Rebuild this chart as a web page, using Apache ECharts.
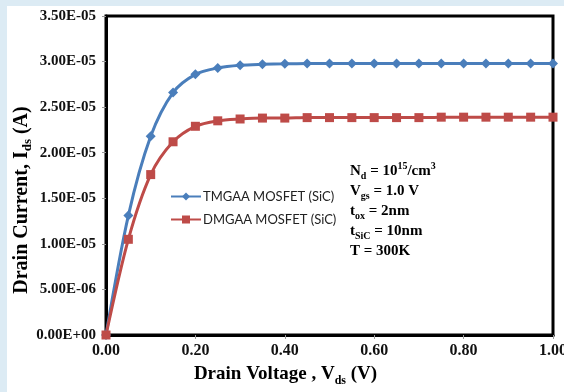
<!DOCTYPE html>
<html>
<head>
<meta charset="utf-8">
<script src="https://cdn.jsdelivr.net/npm/echarts@6/dist/echarts.min.js"></script>
<style>
  html, body { margin: 0; padding: 0; background: #dcebf4; overflow: hidden; }
  #chart { position: absolute; left: 7px; top: 6px; width: 557px; height: 386px; background: #ffffff; }
</style>
</head>
<body>
<div id="chart"></div>
<script>
// Drain voltage sweep (V)
const vds = [0, 0.05, 0.10, 0.15, 0.20, 0.25, 0.30, 0.35, 0.40, 0.45, 0.50,
             0.55, 0.60, 0.65, 0.70, 0.75, 0.80, 0.85, 0.90, 0.95, 1.00];
// Drain current (A)
const tmgaa = [0, 1.31e-5, 2.18e-5, 2.66e-5, 2.86e-5, 2.93e-5, 2.96e-5, 2.97e-5, 2.975e-5, 2.98e-5, 2.98e-5,
               2.98e-5, 2.98e-5, 2.98e-5, 2.98e-5, 2.98e-5, 2.98e-5, 2.98e-5, 2.98e-5, 2.98e-5, 2.98e-5];
const dmgaa = [0, 1.05e-5, 1.76e-5, 2.12e-5, 2.29e-5, 2.35e-5, 2.37e-5, 2.38e-5, 2.38e-5, 2.385e-5, 2.385e-5,
               2.385e-5, 2.385e-5, 2.385e-5, 2.385e-5, 2.39e-5, 2.39e-5, 2.39e-5, 2.39e-5, 2.39e-5, 2.39e-5];
const seriesNames = ['TMGAA MOSFET (SiC)', 'DMGAA MOSFET (SiC)'];

function sci(v) {
  if (v === 0) return '0.00E+00';
  let e = Math.floor(Math.log10(Math.abs(v)) + 1e-9);
  let m = v / Math.pow(10, e);
  if (Math.abs(m) >= 9.995) { m /= 10; e += 1; }
  const es = (e < 0 ? '-' : '+') + String(Math.abs(e)).padStart(2, '0');
  return m.toFixed(2) + 'E' + es;
}

const serif = 'Liberation Serif';
const chart = echarts.init(document.getElementById('chart'), null, { renderer: 'canvas' });

const paramRich = {
  m: { fontFamily: serif, fontWeight: 'bold', fontSize: 15, color: '#111', verticalAlign: 'middle', lineHeight: 20 },
  sb: { fontFamily: serif, fontWeight: 'bold', fontSize: 10, color: '#111', verticalAlign: 'bottom', lineHeight: 11 },
  sp: { fontFamily: serif, fontWeight: 'bold', fontSize: 10, color: '#111', verticalAlign: 'top', lineHeight: 12 }
};

chart.setOption({
  animation: false,
  backgroundColor: '#ffffff',
  grid: {
    left: 99, right: 11, top: 10, bottom: 57,
    show: true, borderColor: '#000', borderWidth: 3,
    containLabel: false, outerBoundsMode: 'none'
  },
  xAxis: {
    type: 'value', min: 0, max: 1, interval: 0.2,
    axisLine: { show: true, lineStyle: { color: '#000', width: 3 } },
    axisTick: { show: true, length: 4, lineStyle: { color: '#999' } },
    splitLine: { show: false },
    axisLabel: { formatter: v => v.toFixed(2), fontFamily: serif, fontWeight: 'bold', fontSize: 16, color: '#111', margin: 8 }
  },
  yAxis: {
    type: 'value', min: 0, max: 3.5e-5, interval: 5e-6,
    axisLine: { show: true, lineStyle: { color: '#000', width: 3 } },
    axisTick: { show: true, length: 4, lineStyle: { color: '#999' } },
    splitLine: { show: false },
    axisLabel: { formatter: v => sci(v), fontFamily: serif, fontWeight: 'bold', fontSize: 15, color: '#111', margin: 10 }
  },
  legend: {
    orient: 'vertical', left: 158, top: 179, itemWidth: 30, itemHeight: 10, itemGap: 10,
    textStyle: { fontFamily: 'Lato', fontSize: 13, color: '#222', padding: [0, 0, 0, -3] },
    data: seriesNames
  },
  series: [
    {
      name: seriesNames[0], type: 'line', smooth: 0.3,
      data: vds.map((x, i) => [x, tmgaa[i]]),
      symbol: 'diamond', symbolSize: 10,
      lineStyle: { color: '#4a7ebb', width: 3 },
      itemStyle: { color: '#4a7ebb' }
    },
    {
      name: seriesNames[1], type: 'line', smooth: 0.3,
      data: vds.map((x, i) => [x, dmgaa[i]]),
      symbol: 'rect', symbolSize: 9,
      lineStyle: { color: '#be4b48', width: 3 },
      itemStyle: { color: '#be4b48' }
    }
  ],
  graphic: [
    {
      type: 'text', left: 'center', top: 359,
      style: {
        text: '{m|Drain Voltage , V}{sb|ds}{m| (V)}',
        rich: {
          m: { fontFamily: serif, fontWeight: 'bold', fontSize: 19, color: '#111', verticalAlign: 'middle', lineHeight: 24 },
          sb: { fontFamily: serif, fontWeight: 'bold', fontSize: 12, color: '#111', verticalAlign: 'bottom', lineHeight: 16 }
        }
      }
    },
    {
      type: 'text', x: 15, y: 194, rotation: Math.PI / 2,
      style: {
        text: '{m|Drain Current, I}{sb|ds}{m| (A)}',
        align: 'center', verticalAlign: 'middle',
        rich: {
          m: { fontFamily: serif, fontWeight: 'bold', fontSize: 20, color: '#111', verticalAlign: 'middle', lineHeight: 24 },
          sb: { fontFamily: serif, fontWeight: 'bold', fontSize: 13, color: '#111', verticalAlign: 'bottom', lineHeight: 16 }
        }
      }
    },
    {
      type: 'text', x: 343, y: 155,
      style: {
        text: [
          '{m|N}{sb|d}{m| = 10}{sp|15}{m|/cm}{sp|3}',
          '{m|V}{sb|gs}{m| = 1.0 V}',
          '{m|t}{sb|ox}{m| = 2nm}',
          '{m|t}{sb|SiC}{m| = 10nm}',
          '{m|T = 300K}'
        ].join('\n'),
        rich: paramRich
      }
    }
  ]
});
</script>
</body>
</html>
